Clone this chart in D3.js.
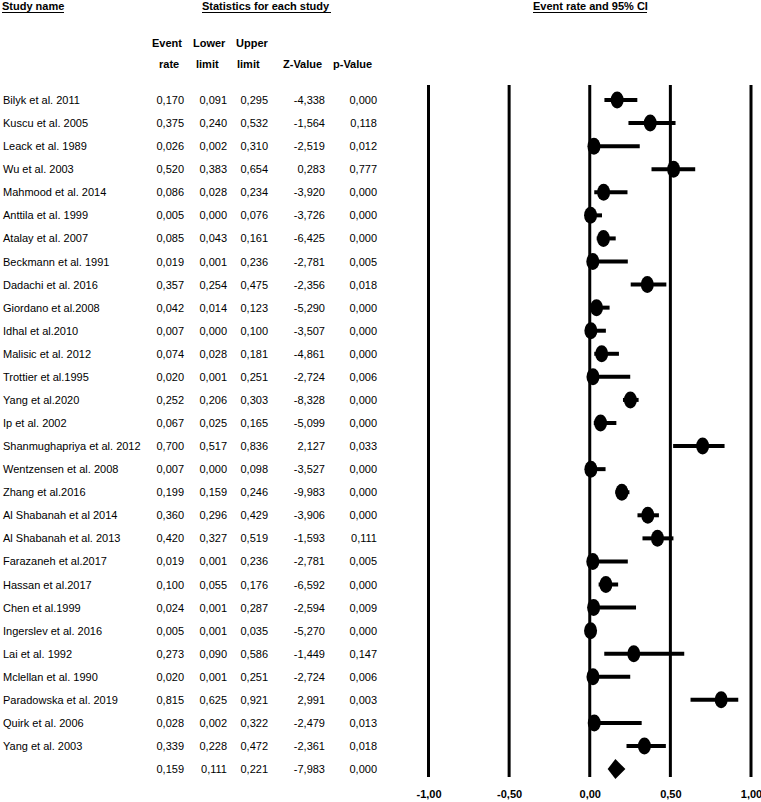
<!DOCTYPE html>
<html><head><meta charset="utf-8">
<script src="https://cdn.jsdelivr.net/npm/d3@7"></script>
<style>body{margin:0;background:#fff}svg{display:block}text{font-family:"Liberation Sans",Arial,sans-serif;fill:#000}</style>
</head><body><div id="c"></div>
<script>
const studies = ["Bilyk et al. 2011","Kuscu et al. 2005","Leack et al. 1989","Wu et al. 2003","Mahmood et al. 2014","Anttila et al. 1999","Atalay et al. 2007","Beckmann et al. 1991","Dadachi et al. 2016","Giordano et al.2008","Idhal et al.2010","Malisic et al. 2012","Trottier et al.1995","Yang et al.2020","Ip et al. 2002","Shanmughapriya et al. 2012","Wentzensen et al. 2008","Zhang et al.2016","Al Shabanah et al  2014","Al Shabanah et al.  2013","Farazaneh et al.2017","Hassan et al.2017","Chen et al.1999","Ingerslev et al. 2016","Lai et al. 1992","Mclellan et al. 1990","Paradowska et al. 2019","Quirk et al. 2006","Yang et al. 2003"];
const eventRate = [0.170,0.375,0.026,0.520,0.086,0.005,0.085,0.019,0.357,0.042,0.007,0.074,0.020,0.252,0.067,0.700,0.007,0.199,0.360,0.420,0.019,0.100,0.024,0.005,0.273,0.020,0.815,0.028,0.339];
const lower = [0.091,0.240,0.002,0.383,0.028,0.000,0.043,0.001,0.254,0.014,0.000,0.028,0.001,0.206,0.025,0.517,0.000,0.159,0.296,0.327,0.001,0.055,0.001,0.001,0.090,0.001,0.625,0.002,0.228];
const upper = [0.295,0.532,0.310,0.654,0.234,0.076,0.161,0.236,0.475,0.123,0.100,0.181,0.251,0.303,0.165,0.836,0.098,0.246,0.429,0.519,0.236,0.176,0.287,0.035,0.586,0.251,0.921,0.322,0.472];
const zValue = [-4.338,-1.564,-2.519,0.283,-3.920,-3.726,-6.425,-2.781,-2.356,-5.290,-3.507,-4.861,-2.724,-8.328,-5.099,2.127,-3.527,-9.983,-3.906,-1.593,-2.781,-6.592,-2.594,-5.270,-1.449,-2.724,2.991,-2.479,-2.361];
const pValue = [0.000,0.118,0.012,0.777,0.000,0.000,0.000,0.005,0.018,0.000,0.000,0.000,0.006,0.000,0.000,0.033,0.000,0.000,0.000,0.111,0.005,0.000,0.009,0.000,0.147,0.006,0.003,0.013,0.018];
const summary = {rate:0.159, lower:0.111, upper:0.221, z:-7.983, p:0.000};
const ticks = [-1,-0.5,0,0.5,1];

const W=761,H=802;
const svg=d3.select("#c").append("svg").attr("width",W).attr("height",H);
const x=d3.scaleLinear().domain([-1,1]).range([428.5,751]);
const y=d3.scaleLinear().domain([0,28]).range([100,746]);
const fmt=v=>(v<0?"-":"")+Math.abs(v).toFixed(3).replace(".",",");

// headers
function hdr(t,xp,yp,w){
  svg.append("text").attr("x",xp).attr("y",yp).attr("font-size",11).attr("font-weight","bold").text(t);
  svg.append("line").attr("x1",xp).attr("x2",xp+w).attr("y1",yp+2.5).attr("y2",yp+2.5).attr("stroke","#000").attr("stroke-width",1.2);
}
hdr("Study name",2,10,62);
hdr("Statistics for each study",202,10,129);
hdr("Event rate and 95% CI",533,10,114);

const colsR=[184,227,268,325,377];
const h1=[["Event",152],["Lower",193],["Upper",236]];
h1.forEach(([t,xp])=>svg.append("text").attr("x",xp).attr("y",47).attr("font-size",11).attr("font-weight","bold").text(t));
const h2=[["rate",159],["limit",196],["limit",237],["Z-Value",283],["p-Value",333]];
h2.forEach(([t,xp])=>svg.append("text").attr("x",xp).attr("y",68).attr("font-size",11).attr("font-weight","bold").text(t));

// table rows
studies.forEach((s,i)=>{
  const yy=y(i)+4;
  svg.append("text").attr("x",3).attr("y",yy).attr("font-size",11).text(s);
  [eventRate[i],lower[i],upper[i],zValue[i],pValue[i]].forEach((v,j)=>{
    svg.append("text").attr("x",colsR[j]).attr("y",yy).attr("text-anchor","end").attr("font-size",11).text(fmt(v));
  });
});
const ys=y(29)+4;
[summary.rate,summary.lower,summary.upper,summary.z,summary.p].forEach((v,j)=>{
  svg.append("text").attr("x",colsR[j]).attr("y",ys).attr("text-anchor","end").attr("font-size",11).text(fmt(v));
});

// vertical grid lines
ticks.forEach(t=>{
  svg.append("line").attr("x1",x(t)).attr("x2",x(t)).attr("y1",85).attr("y2",777).attr("stroke","#000").attr("stroke-width",3);
});
// axis labels
const ax=svg.append("g").attr("transform","translate(0,790)").call(d3.axisBottom(x).tickValues(ticks).tickSize(0).tickPadding(0).tickFormat(d=>d3.format(".2f")(d).replace(".",",").replace("−","-")));
ax.select(".domain").remove();
ax.selectAll("text").attr("font-size",11).attr("font-weight","bold").attr("font-family","Liberation Sans, Arial, sans-serif").attr("fill","#000");

// CIs and markers
studies.forEach((s,i)=>{
  svg.append("line").attr("x1",x(lower[i])).attr("x2",x(upper[i])).attr("y1",y(i)).attr("y2",y(i)).attr("stroke","#000").attr("stroke-width",4);
  svg.append("ellipse").attr("cx",x(eventRate[i])).attr("cy",y(i)).attr("rx",6.5).attr("ry",8.5).attr("fill","#000");
});
// summary diamond
const sy=y(29);
svg.append("path").attr("d",`M${x(summary.lower)},${sy}L${x(summary.rate)},${sy-10}L${x(summary.upper)},${sy}L${x(summary.rate)},${sy+10}Z`).attr("fill","#000");
</script></body></html>
